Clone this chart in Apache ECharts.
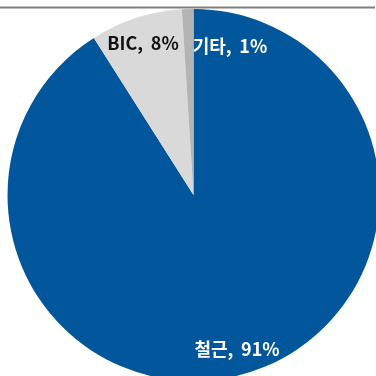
<!DOCTYPE html>
<html>
<head>
<meta charset="utf-8">
<script src="https://cdn.jsdelivr.net/npm/echarts@6/dist/echarts.min.js"></script>
<style>
  html, body { margin: 0; padding: 0; background: #fff; }
  #chart { width: 376px; height: 376px; }
</style>
</head>
<body>
<div id="chart"></div>
<script>
// Share by product type (%)
const categories = ['철근', 'BIC', '기타'];
const shares = [91, 8, 1];
const sliceColors = ['#02569B', '#D9D9D9', '#B4B4B4'];
const labelColors = ['#FFFFFF', '#111111', '#FFFFFF'];

// Label anchor points (px) for each slice
const labelSpots = [[237, 349], [143, 43], [230, 46]];

const chart = echarts.init(document.getElementById('chart'), null, { renderer: 'canvas' });

chart.setOption({
  animation: false,
  backgroundColor: '#FFFFFF',
  graphic: [{
    type: 'line',
    z: 10,
    shape: { x1: 0, y1: 7.5, x2: 375, y2: 7.5 },
    style: { stroke: '#808080', lineWidth: 2 }
  }],
  series: [{
    type: 'pie',
    center: [193.5, 195],
    radius: 186,
    startAngle: 90,
    clockwise: true,
    avoidLabelOverlap: false,
    data: categories.map((name, i) => ({
      name: name,
      value: shares[i],
      itemStyle: { color: sliceColors[i] },
      label: { color: labelColors[i] }
    })),
    itemStyle: { borderWidth: 0 },
    label: {
      show: true,
      position: 'inside',
      formatter: p => p.name + ',\u2009 ' + p.value + '%',
      fontFamily: '"Noto Sans CJK KR", "Noto Sans", sans-serif',
      fontWeight: 'bold',
      fontSize: 18
    },
    labelLine: { show: false },
    labelLayout: params => ({
      x: labelSpots[params.dataIndex][0],
      y: labelSpots[params.dataIndex][1],
      align: 'center',
      verticalAlign: 'middle'
    })
  }]
});
</script>
</body>
</html>
